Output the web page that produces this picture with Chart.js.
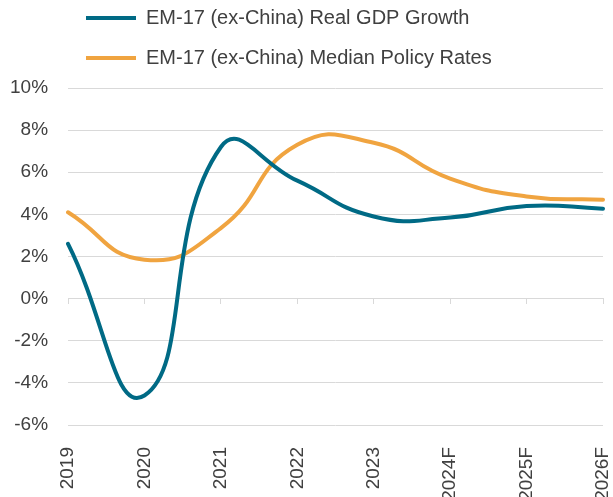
<!DOCTYPE html>
<html>
<head>
<meta charset="utf-8">
<script src="https://cdn.jsdelivr.net/npm/chart.js@4"></script>
<style>
  html, body { margin: 0; padding: 0; background: #fff; overflow: hidden; }
  #wrap { position: relative; width: 613px; height: 497px; }
</style>
</head>
<body>
<div id="wrap"><canvas id="chart"></canvas></div>
<script>
const years = ["2019", "2020", "2021", "2022", "2023", "2024F", "2025F", "2026F"];
const gdpGrowth = [2.6, -4.6, 7.2, 5.6, 3.9, 3.85, 4.4, 4.27];
const policyRates = [4.1, 1.85, 3.35, 7.3, 7.4, 5.7, 4.85, 4.7];

const yMin = -6;
const yMax = 10;
const yStep = 2;

const BLUE = "#006a85";
const ORANGE = "#f0a440";
const GRID = "#d9d9d9";
const TEXT = "#404040";

// legend sits to the right of the y labels, higher than Chart.js puts it
const legendShift = {
  id: "legendShift",
  beforeDraw(chart) {
    chart.legend.left = 66;
    chart.legend.top = -12;
  }
};

new Chart(document.getElementById("chart"), {
  type: "line",
  data: {
    labels: years,
    datasets: [
      {
        label: "EM-17 (ex-China) Real GDP Growth",
        data: gdpGrowth,
        borderColor: BLUE,
        backgroundColor: BLUE,
        borderWidth: 4,
        borderCapStyle: "round",
        pointRadius: 0,
        tension: 0.5
      },
      {
        label: "EM-17 (ex-China) Median Policy Rates",
        data: policyRates,
        borderColor: ORANGE,
        backgroundColor: ORANGE,
        borderWidth: 4,
        borderCapStyle: "round",
        pointRadius: 0,
        tension: 0.5
      }
    ]
  },
  options: {
    responsive: true,
    maintainAspectRatio: false,
    animation: false,
    layout: { padding: { left: -10, top: -2, right: 0, bottom: 0 } },
    plugins: {
      legend: {
        position: "top",
        align: "start",
        labels: {
          usePointStyle: true,
          pointStyle: "line",
          pointStyleWidth: 50,
          padding: 20,
          color: TEXT,
          font: { family: "'Liberation Sans', Arial, sans-serif", size: 20 }
        }
      },
      tooltip: { enabled: false }
    },
    scales: {
      x: {
        type: "category",
        offset: false,
        grid: { display: false },
        border: { display: false },
        ticks: {
          minRotation: 90,
          maxRotation: 90,
          padding: 14,
          autoSkip: false,
          color: TEXT,
          font: { family: "'Liberation Sans', Arial, sans-serif", size: 19 }
        },
        afterFit(scale) {
          scale.height = 72;
          scale.paddingLeft = 0;
          scale.paddingRight = 10;
        }
      },
      // zero line with the small tick marks
      x2: {
        type: "category",
        position: { y: 0 },
        offset: false,
        grid: { drawOnChartArea: false, drawTicks: true, tickLength: 5, color: GRID },
        border: { display: true, color: GRID, width: 1 },
        ticks: { display: false }
      },
      y: {
        min: yMin,
        max: yMax,
        grid: { color: GRID, drawTicks: false },
        border: { display: false },
        ticks: {
          stepSize: yStep,
          padding: 20,
          color: TEXT,
          font: { family: "'Liberation Sans', Arial, sans-serif", size: 19 },
          callback: (v) => v + "%"
        }
      }
    }
  },
  plugins: [legendShift]
});
</script>
</body>
</html>
